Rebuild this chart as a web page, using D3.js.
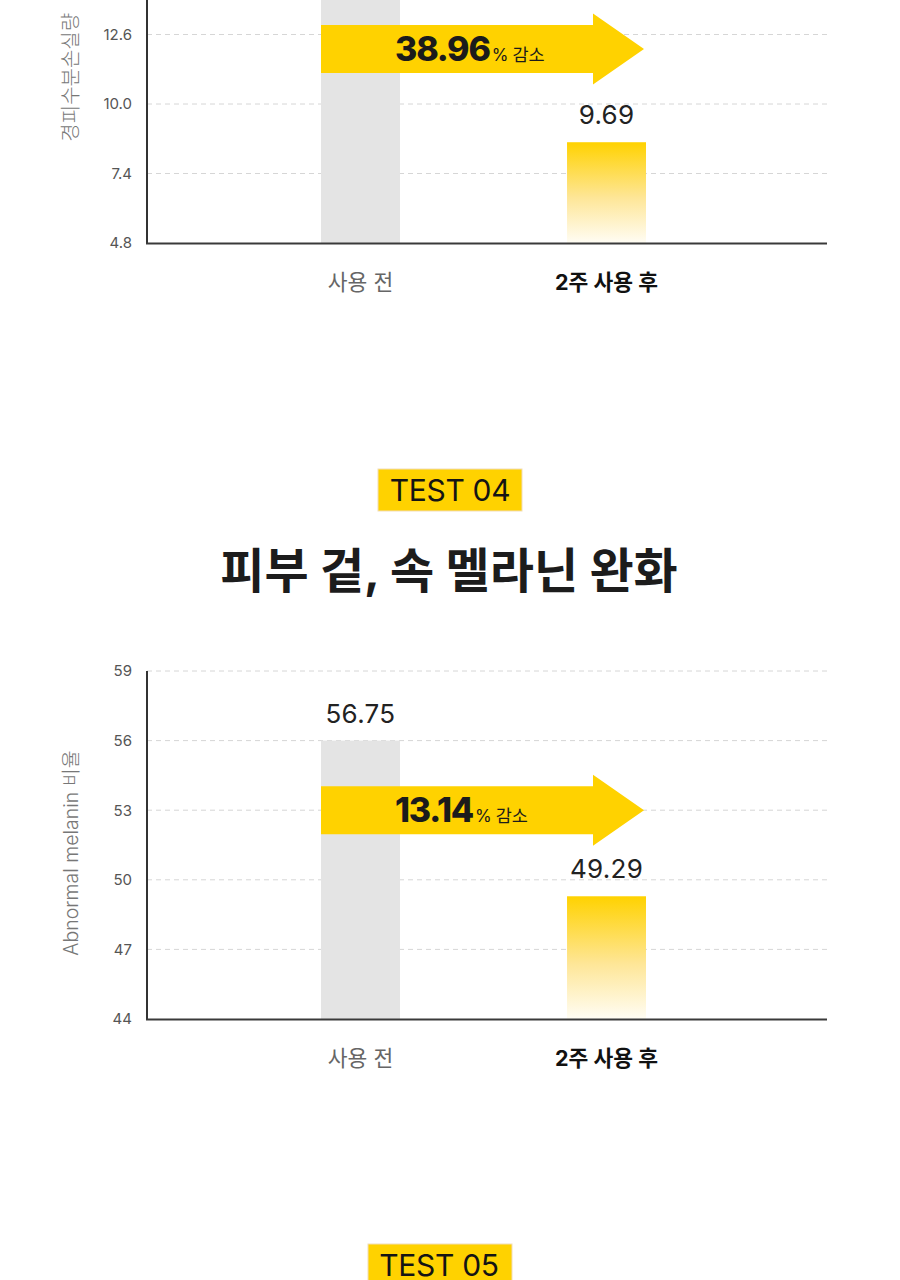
<!DOCTYPE html>
<html><head><meta charset="utf-8">
<script src="https://cdn.jsdelivr.net/npm/d3@7"></script>
<style>
html,body{margin:0;padding:0;background:#fff;}
svg{display:block;}
text{font-family: Inter, "Noto Sans CJK KR", sans-serif;}
</style></head><body>
<svg id="c" width="900" height="1280"></svg>
<script>
// ---------------- data ----------------
const categories = ["사용 전", "2주 사용 후"];

// chart 1 (top, cut off by the page edge)
const tewlAxisTitle = "경피수분손실량";
const tewlDomain = [4.8, 17.8];
const tewlTicks = [4.8, 7.4, 10.0, 12.6];      // visible tick labels
const tewlValues = [null, 9.69];               // printed values (first is off the page)
const tewlBarTops = [15.87, 8.57];             // bar tops as drawn in the picture
const tewlDecrease = "38.96";
const tewlArrowLevel = 12.06;

// chart 2
const melBadge = "TEST 04";
const melHeading = "피부 겉, 속 멜라닌 완화";
const melAxisTitle = "Abnormal melanin 비율";
const melDomain = [44, 59];
const melTicks = [44, 47, 50, 53, 56, 59];
const melValues = [56.75, 49.29];
const melBarTops = [56.0, 49.29];
const melDecrease = "13.14";
const melArrowLevel = 53;

const nextBadge = "TEST 05";

// ---------------- drawing ----------------
const svg = d3.select("#c");
const defs = svg.append("defs");
const grad = defs.append("linearGradient").attr("id", "yg")
  .attr("x1", 0).attr("y1", 0).attr("x2", 0).attr("y2", 1);
grad.append("stop").attr("offset", "0%").attr("stop-color", "#FFD200");
grad.append("stop").attr("offset", "55%").attr("stop-color", "#FEE697");
grad.append("stop").attr("offset", "100%").attr("stop-color", "#FFFDF4");

const YELLOW = "#FFD200";
const plotLeft = 147, plotRight = 827;

function drawChart(opt) {
  const g = svg.append("g");
  const y = d3.scaleLinear().domain(opt.domain).range(opt.yRange);
  const x = d3.scaleBand().domain(categories).range([321, 646])
    .paddingInner(0.679).paddingOuter(0);
  const base = opt.yRange[0];

  // gridlines
  g.selectAll(".grid").data(opt.ticks.slice(1)).join("line")
    .attr("x1", plotLeft).attr("x2", plotRight)
    .attr("y1", d => y(d)).attr("y2", d => y(d))
    .attr("stroke", "#d6d6d6").attr("stroke-width", 1)
    .attr("stroke-dasharray", "5,4");

  // tick labels
  const ax = g.append("g").attr("transform", `translate(${plotLeft},0)`)
    .call(d3.axisLeft(y).tickValues(opt.ticks).tickSize(0).tickPadding(15)
      .tickFormat(d3.format(opt.tickFmt)));
  ax.select(".domain").remove();
  ax.selectAll("text").attr("font-size", 15).attr("fill", "#555")
    .attr("font-family", "Inter, sans-serif");

  // bars
  const colors = ["#E4E4E4", "url(#yg)"];
  g.selectAll(".bar").data(categories).join("rect")
    .attr("x", d => x(d)).attr("width", x.bandwidth())
    .attr("y", (d, i) => y(opt.barTops[i]))
    .attr("height", (d, i) => base - y(opt.barTops[i]))
    .attr("fill", (d, i) => colors[i]);

  // value labels
  g.selectAll(".val").data(categories.filter((d, i) => opt.values[i] != null)).join("text")
    .attr("x", d => x(d) + x.bandwidth() / 2)
    .attr("y", d => y(opt.barTops[categories.indexOf(d)]) - 18)
    .attr("text-anchor", "middle")
    .attr("font-size", 26).attr("fill", "#222").attr("letter-spacing", 0.3)
    .text(d => d3.format(".2f")(opt.values[categories.indexOf(d)]));

  // axes lines
  g.append("line").attr("x1", plotLeft).attr("x2", plotLeft)
    .attr("y1", y(opt.domain[1])).attr("y2", base + 1)
    .attr("stroke", "#333").attr("stroke-width", 2);
  g.append("line").attr("x1", plotLeft - 1).attr("x2", plotRight)
    .attr("y1", base + 0.5).attr("y2", base + 0.5)
    .attr("stroke", "#3a3a3a").attr("stroke-width", 2);

  // category labels
  g.selectAll(".cat").data(categories).join("text")
    .attr("x", d => x(d) + x.bandwidth() / 2)
    .attr("y", base + 47)
    .attr("text-anchor", "middle")
    .attr("font-family", "'Noto Sans CJK KR', sans-serif")
    .attr("font-size", 21.5)
    .attr("font-weight", (d, i) => i === 1 ? 700 : 400)
    .attr("fill", (d, i) => i === 1 ? "#111" : "#666")
    .text(d => d);

  // y axis title
  const cy = (opt.yRange[0] + opt.yRange[1]) / 2 + 8;
  g.append("text")
    .attr("transform", `translate(78,${cy}) rotate(-90)`)
    .attr("text-anchor", "middle")
    .attr("font-size", opt.titleSize).attr("font-weight", 300).attr("fill", "#777")
    .text(opt.axisTitle);

  // arrow
  const ay = y(opt.arrowLevel);
  const x0 = x(categories[0]);
  const tip = x(categories[1]) + x.bandwidth() - 2;
  const headStart = tip - 51;
  const p = d3.path();
  p.moveTo(x0, ay - 24);
  p.lineTo(headStart, ay - 24);
  p.lineTo(headStart, ay - 35.5);
  p.lineTo(tip, ay);
  p.lineTo(headStart, ay + 35.5);
  p.lineTo(headStart, ay + 24);
  p.lineTo(x0, ay + 24);
  p.closePath();
  g.append("path").attr("d", p.toString()).attr("fill", YELLOW);

  const t = g.append("text").attr("x", x0 + 74).attr("y", ay + 12)
    .attr("fill", "#1b1b1b");
  t.append("tspan").attr("font-size", 34).attr("font-weight", 800)
    .attr("letter-spacing", -1.2).text(opt.decrease);
  t.append("tspan").attr("font-size", 17).attr("font-weight", 400)
    .attr("dx", 2).text("%");
  t.append("tspan").attr("font-size", 17.5).attr("font-weight", 400)
    .attr("font-family", "'Noto Sans CJK KR', sans-serif")
    .attr("dx", 4).text("감소");
}

drawChart({
  domain: tewlDomain, ticks: tewlTicks, yRange: [243, 243 - 13 * 26.73], tickFmt: ".1f",
  values: tewlValues, barTops: tewlBarTops, decrease: tewlDecrease,
  arrowLevel: tewlArrowLevel, axisTitle: tewlAxisTitle, titleSize: 20
});

// badge helper
function badge(cx, top, label, textCx) {
  svg.append("rect").attr("x", cx - 72).attr("y", top).attr("width", 144).attr("height", 42)
    .attr("fill", YELLOW).attr("stroke", "#F2DDB8").attr("stroke-width", 1);
  svg.append("text").attr("x", textCx).attr("y", top + 32).attr("text-anchor", "middle")
    .attr("font-size", 30).attr("letter-spacing", -0.3).attr("fill", "#141414").text(label);
}

badge(450, 469, melBadge, 450);
svg.append("text").attr("x", 449).attr("y", 588).attr("text-anchor", "middle")
  .attr("font-family", "'Noto Sans CJK KR', sans-serif")
  .attr("font-size", 48).attr("font-weight", 700).attr("letter-spacing", 0)
  .attr("fill", "#1c1c1c").text(melHeading);

drawChart({
  domain: melDomain, ticks: melTicks, yRange: [1019, 671], tickFmt: "d",
  values: melValues, barTops: melBarTops, decrease: melDecrease,
  arrowLevel: melArrowLevel, axisTitle: melAxisTitle, titleSize: 19.5
});

badge(440, 1244, nextBadge, 439);
</script>
</body></html>
